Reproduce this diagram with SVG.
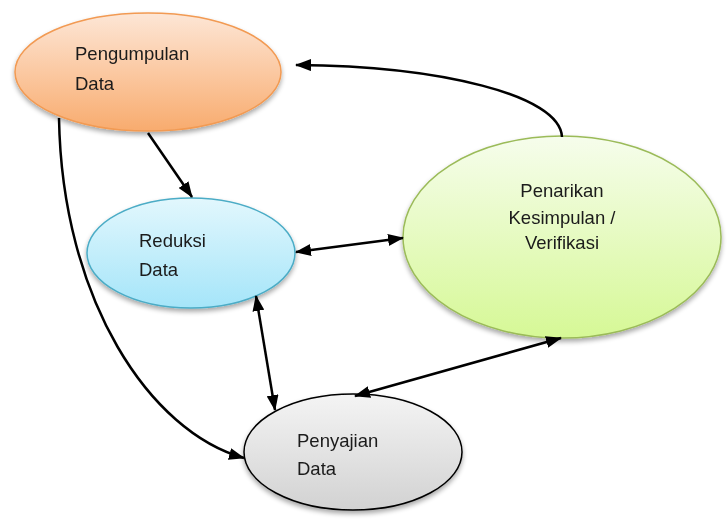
<svg xmlns="http://www.w3.org/2000/svg" width="728" height="519" viewBox="0 0 728 519">
<style>
.lbl{font-family:"Liberation Sans",Arial,sans-serif;font-size:18.5px;fill:#1a1a1a}
.c{fill:none;stroke:#000;stroke-width:2.5}
</style>
<defs>
<linearGradient id="gO" x1="0" y1="0" x2="0" y2="1"><stop offset="0" stop-color="#fde6d6"/><stop offset="0.5" stop-color="#fbc9a2"/><stop offset="1" stop-color="#f8ab6e"/></linearGradient>
<linearGradient id="gB" x1="0" y1="0" x2="0" y2="1"><stop offset="0" stop-color="#e2f7fd"/><stop offset="1" stop-color="#a5e5f9"/></linearGradient>
<linearGradient id="gG" x1="0" y1="0" x2="0" y2="1"><stop offset="0" stop-color="#f6fdec"/><stop offset="1" stop-color="#d6f896"/></linearGradient>
<linearGradient id="gY" x1="0" y1="0" x2="0" y2="1"><stop offset="0" stop-color="#f4f4f4"/><stop offset="1" stop-color="#d2d2d2"/></linearGradient>
<filter id="sh" x="-10%" y="-10%" width="120%" height="130%"><feGaussianBlur in="SourceAlpha" stdDeviation="2.5"/><feOffset dx="0" dy="3" result="b"/><feComponentTransfer><feFuncA type="linear" slope="0.35"/></feComponentTransfer><feMerge><feMergeNode/><feMergeNode in="SourceGraphic"/></feMerge></filter>
<marker id="ah" viewBox="0 0 16 12" refX="15" refY="6" markerWidth="16" markerHeight="12" markerUnits="userSpaceOnUse" orient="auto-start-reverse"><path d="M0,0 L16,6 L0,12 Z" fill="#000"/></marker>
</defs>
<g id="n-pengumpulan" filter="url(#sh)">
<ellipse cx="148" cy="72" rx="133" ry="59" fill="url(#gO)" stroke="#f29a52" stroke-width="1.5"/>
<text class="lbl" x="75" y="60">Pengumpulan</text>
<text class="lbl" x="75" y="90">Data</text>
</g>
<g id="n-reduksi" filter="url(#sh)">
<ellipse cx="191" cy="253" rx="104" ry="55" fill="url(#gB)" stroke="#4bacc6" stroke-width="1.5"/>
<text class="lbl" x="139" y="247">Reduksi</text>
<text class="lbl" x="139" y="276">Data</text>
</g>
<g id="n-penarikan" filter="url(#sh)">
<ellipse cx="562" cy="237" rx="159" ry="101" fill="url(#gG)" stroke="#9bbb59" stroke-width="1.5"/>
<text class="lbl" x="562" y="197" text-anchor="middle">Penarikan</text>
<text class="lbl" x="562" y="224" text-anchor="middle">Kesimpulan /</text>
<text class="lbl" x="562" y="249" text-anchor="middle">Verifikasi</text>
</g>
<g id="n-penyajian" filter="url(#sh)">
<ellipse cx="353" cy="452" rx="109" ry="58" fill="url(#gY)" stroke="#000" stroke-width="1.5"/>
<text class="lbl" x="297" y="447">Penyajian</text>
<text class="lbl" x="297" y="475">Data</text>
</g>
<g id="connectors">
<path class="c" d="M148,133 L192,197" marker-end="url(#ah)"/>
<path class="c" d="M296,252 L403,238" marker-start="url(#ah)" marker-end="url(#ah)"/>
<path class="c" d="M256,296 L275,410" marker-start="url(#ah)" marker-end="url(#ah)"/>
<path class="c" d="M355,396 L561,338" marker-start="url(#ah)" marker-end="url(#ah)"/>
<path class="c" d="M59,118 C62,300 150,432 244,458" marker-end="url(#ah)"/>
<path class="c" d="M562,137 C560,95 440,66 296,65" marker-end="url(#ah)"/>
</g>
</svg>
